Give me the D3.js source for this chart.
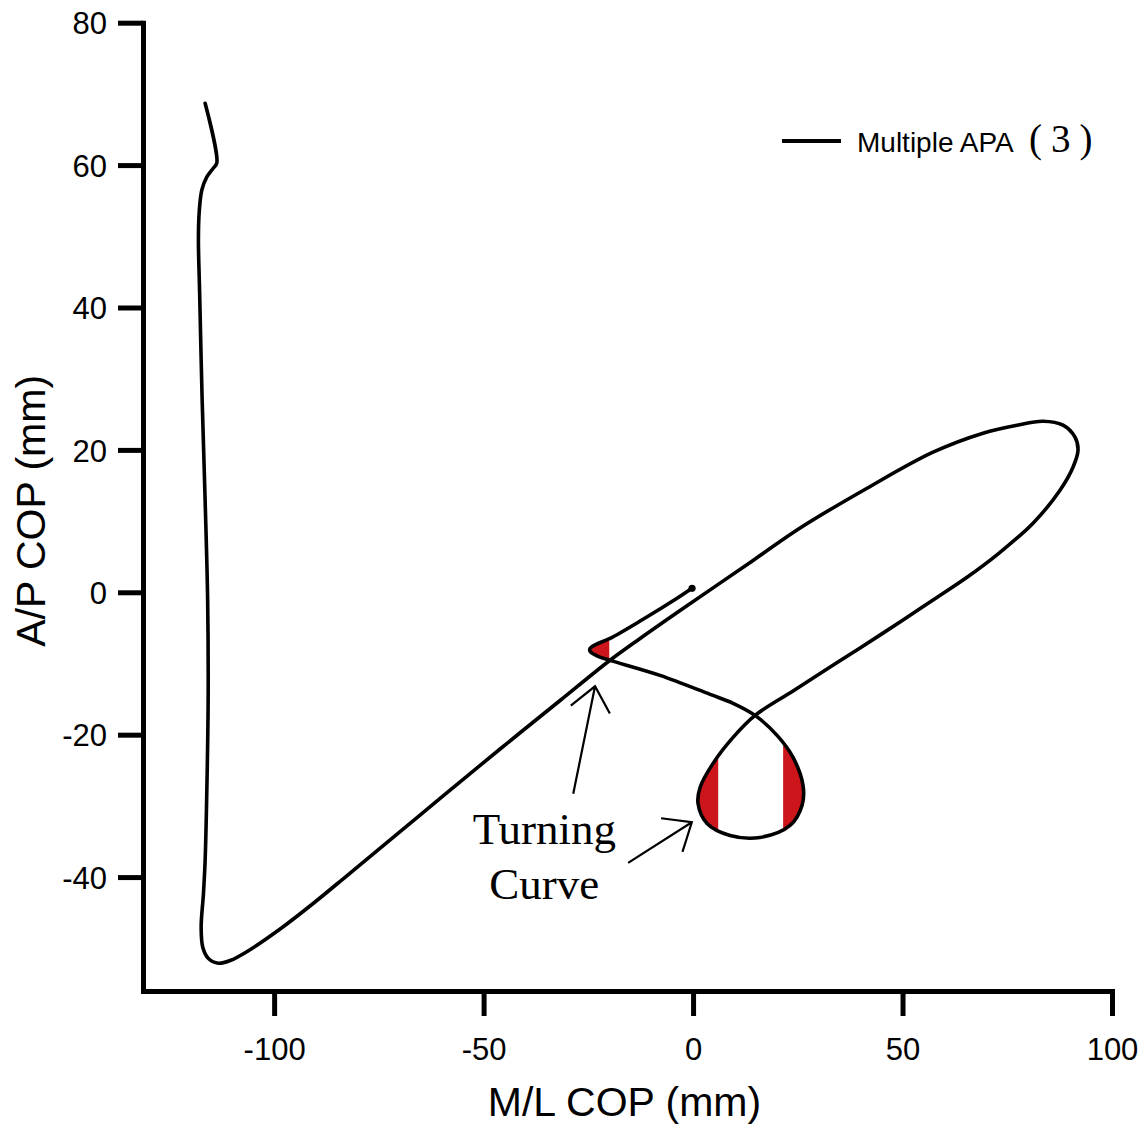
<!DOCTYPE html>
<html>
<head>
<meta charset="utf-8">
<script src="https://cdn.jsdelivr.net/npm/d3@7"></script>
<style>
  html, body { margin: 0; padding: 0; background: #ffffff; }
  svg { display: block; }
</style>
</head>
<body>
<script>
// ---------------- DATA ----------------
// COP trajectory (M/L, A/P) in mm, in drawing order
const mlCOP = [
  -116.47, -113.68, -114.49, -116.06, -117.26, -117.90, -118.07, -117.78, -117.18, -116.47,
  -115.87, -115.75, -116.11, -116.47, -116.87, -117.42, -117.02, -115.68, -113.29, -110.50,
  -106.52, -98.57, -90.69, -82.58, -69.93, -60.38, -46.06, -31.74, -20.05, -12.65,
  -3.10, 14.32, 25.54, 41.53, 57.28, 69.21, 77.33, 83.53, 88.31, 91.17,
  91.89, 90.69, 87.59, 81.15, 73.27, 65.39, 57.28, 49.40, 39.86, 31.98,
  23.87, 14.80, 9.55, 4.77, 1.67, 1.19, 3.34, 8.83, 15.99, 23.15,
  26.01, 26.25, 23.87, 20.05, 14.80, 9.55, 4.06, -7.88, -19.81, -22.67,
  -24.58, -24.58, -23.15, -19.81, -11.93, -3.82, -0.24
];
const apCOP = [
  68.69, 60.30, 59.59, 58.33, 56.50, 53.27, 49.47, 42.02, 26.99, 12.93,
  -1.12, -15.18, -29.23, -37.67, -42.31, -47.08, -49.89, -51.44, -52.10, -51.72,
  -50.48, -47.29, -43.71, -39.78, -33.60, -28.96, -22.01, -15.20, -9.65, -6.49,
  -2.56, 4.47, 9.03, 14.62, 19.68, 22.35, 23.47, 24.03, 23.47, 21.78,
  19.96, 17.57, 14.34, 9.70, 5.62, 2.11, -1.08, -4.17, -7.82, -10.77,
  -13.86, -17.29, -20.38, -24.03, -27.41, -29.66, -32.47, -34.15, -34.43, -32.75,
  -29.94, -27.13, -23.19, -20.10, -17.29, -15.59, -14.34, -11.67, -9.56, -9.00,
  -8.29, -7.87, -7.31, -6.47, -3.79, -0.84, 0.56
];
// index ranges of the turning segments (start, end inclusive)
const turnTipRange = [67, 74];
const turnLoopRange = [51, 64];
// red-shaded M/L limits (mm)
const tipRedMaxML = -20;
const loopRedLeftMaxML = 6;
const loopRedRightMinML = 21.5;

// axes
const xTicks = [-100, -50, 0, 50, 100];
const yTicks = [-40, -20, 0, 20, 40, 60, 80];
const xDomain = [-131.3, 100];
const yDomain = [-56, 80];
const xTitle = "M/L COP (mm)";
const yTitle = "A/P COP (mm)";
const legendLabel = "Multiple APA";
const legendSuffix = "(3)";

// annotation (data units)
const annoLines = ["Turning", "Curve"];
const annoPos = [-35.5, -35.3];
const annoLineGapAP = -7.75;
const arrows = [
  { tip: [-23.4, -13.2], tail: [-28.6, -28.3] },
  { tip: [-0.3, -32.3], tail: [-15.5, -38.0] }
];

// ---------------- DRAW ----------------
const SANS = "\"Liberation Sans\", Arial, sans-serif";
const SERIF = "\"Liberation Serif\", \"Times New Roman\", serif";
const W = 1143, H = 1130;
const svg = d3.select("body").append("svg").attr("width", W).attr("height", H);

const x = d3.scaleLinear().domain(xDomain).range([143, 1112]);
const y = d3.scaleLinear().domain(yDomain).range([991, 22.7]);

const pts = mlCOP.map((v, i) => [v, apCOP[i]]);
const curve = d3.curveCatmullRom.alpha(0.5);
const line = d3.line().x(d => x(d[0])).y(d => y(d[1])).curve(curve);

const defs = svg.append("defs");
defs.append("clipPath").attr("id", "clipTip").append("rect")
  .attr("x", 0).attr("y", 0).attr("width", x(tipRedMaxML)).attr("height", H);
defs.append("clipPath").attr("id", "clipLoopL").append("rect")
  .attr("x", 0).attr("y", 0).attr("width", x(loopRedLeftMaxML)).attr("height", H);
defs.append("clipPath").attr("id", "clipLoopR").append("rect")
  .attr("x", x(loopRedRightMinML)).attr("y", 0).attr("width", W - x(loopRedRightMinML)).attr("height", H);

const red = "#cc161b";
const tipPts = pts.slice(turnTipRange[0], turnTipRange[1] + 1);
const loopPts = pts.slice(turnLoopRange[0], turnLoopRange[1] + 1);

svg.append("path").attr("d", line(tipPts) + "Z").attr("fill", red).attr("clip-path", "url(#clipTip)");
svg.append("path").attr("d", line(loopPts) + "Z").attr("fill", red).attr("clip-path", "url(#clipLoopL)");
svg.append("path").attr("d", line(loopPts) + "Z").attr("fill", red).attr("clip-path", "url(#clipLoopR)");

// trajectory
svg.append("path").attr("d", line(pts))
  .attr("fill", "none").attr("stroke", "#000").attr("stroke-width", 3.6)
  .attr("stroke-linejoin", "round").attr("stroke-linecap", "round");

// end marker
const last = pts[pts.length - 1];
svg.append("circle").attr("cx", x(last[0])).attr("cy", y(last[1])).attr("r", 3.6).attr("fill", "#000");

// axes
const xAxis = d3.axisBottom(x).tickValues(xTicks).tickSize(25).tickSizeOuter(0).tickPadding(22)
  .tickFormat(d => String(d));
const yAxis = d3.axisLeft(y).tickValues(yTicks).tickSize(25).tickSizeOuter(0).tickPadding(11)
  .tickFormat(d => String(d));

const gx = svg.append("g").attr("transform", `translate(0,${y(yDomain[0])})`).call(xAxis);
const gy = svg.append("g").attr("transform", `translate(${x(xDomain[0])},0)`).call(yAxis);
[gx, gy].forEach(g => {
  g.attr("font-family", SANS);
  g.selectAll("path.domain").attr("stroke", "#000").attr("stroke-width", 5).attr("stroke-linecap", "square");
  g.selectAll(".tick line").attr("stroke", "#000").attr("stroke-width", 5);
  g.selectAll(".tick text").attr("font-size", 31).attr("fill", "#000").attr("font-family", SANS);
});
gx.selectAll(".tick text").attr("text-anchor", "middle");
gy.selectAll(".tick text").attr("dy", "0.36em");

// axis titles
svg.append("text").attr("x", (x.range()[0] + x.range()[1]) / 2 - 3).attr("y", 1116)
  .attr("text-anchor", "middle").attr("font-size", 41).attr("font-family", SANS).text(xTitle);
svg.append("text").attr("transform", `translate(45,${(y.range()[0] + y.range()[1]) / 2 + 4}) rotate(-90)`)
  .attr("text-anchor", "middle").attr("font-size", 41).attr("font-family", SANS).text(yTitle);

// legend
const lg = svg.append("g");
lg.append("line").attr("x1", 782).attr("x2", 841).attr("y1", 141).attr("y2", 141)
  .attr("stroke", "#000").attr("stroke-width", 4);
lg.append("text").attr("x", 857).attr("y", 152).attr("font-size", 28).attr("font-family", SANS).text(legendLabel);
lg.append("text").attr("x", 1029).attr("y", 152).attr("font-size", 39)
  .attr("font-family", SERIF).attr("letter-spacing", 9).text(legendSuffix);

// annotation
const anno = svg.append("g");
annoLines.forEach((t, i) => {
  anno.append("text").attr("x", x(annoPos[0])).attr("y", y(annoPos[1] + i * annoLineGapAP))
    .attr("text-anchor", "middle").attr("font-size", 45)
    .attr("font-family", SERIF).text(t);
});
arrows.forEach(a => {
  const tx = x(a.tip[0]), ty = y(a.tip[1]);
  const bx = x(a.tail[0]), by = y(a.tail[1]);
  const ang = Math.atan2(by - ty, bx - tx);
  const wl = 31, wa = 40 * Math.PI / 180;
  const w1 = [tx + wl * Math.cos(ang + wa), ty + wl * Math.sin(ang + wa)];
  const w2 = [tx + wl * Math.cos(ang - wa), ty + wl * Math.sin(ang - wa)];
  anno.append("path")
    .attr("d", `M${bx},${by}L${tx},${ty}M${w1[0]},${w1[1]}L${tx},${ty}L${w2[0]},${w2[1]}`)
    .attr("fill", "none").attr("stroke", "#000").attr("stroke-width", 2.2);
});
</script>
</body>
</html>
